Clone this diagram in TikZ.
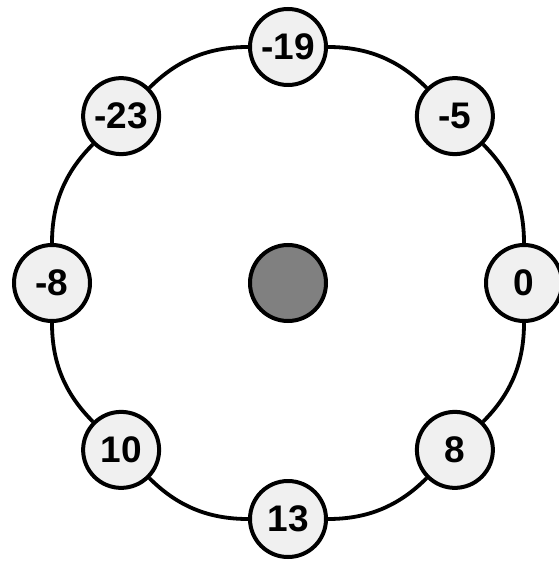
\documentclass[tikz,border=0pt]{standalone}
\usepackage{fontspec}
\setmainfont{Liberation Sans}
\definecolor{nodefill}{HTML}{F0F0F0}
\definecolor{hubfill}{HTML}{808080}
\begin{document}
\begin{tikzpicture}[x=1pt,y=1pt,
  ringnode/.style={circle,draw=black,line width=4pt,fill=nodefill,minimum size=76pt,inner sep=0pt,
    font=\bfseries\fontsize{37}{37}\selectfont},
  hub/.style={circle,draw=black,line width=4pt,fill=hubfill,minimum size=76pt,inner sep=0pt},
  link/.style={line width=3.8pt,bend right=22.5,looseness=0.95}]
\useasboundingbox (0,0) rectangle (558,-561);
\node[hub] (c) at (288,-283) {};
\foreach \n/\a/\t in {n0/0/0,n1/45/-5,n2/90/-19,n3/135/-23,n4/180/-8,n5/225/10,n6/270/13,n7/315/8}
  \node[ringnode] (\n) at ([shift={(\a:236)}]c.center) {\t};
\draw[link] (n0) to (n1);
\draw[link] (n1) to (n2);
\draw[link] (n2) to (n3);
\draw[link] (n3) to (n4);
\draw[link] (n4) to (n5);
\draw[link] (n5) to (n6);
\draw[link] (n6) to (n7);
\draw[link] (n7) to (n0);
\end{tikzpicture}
\end{document}
